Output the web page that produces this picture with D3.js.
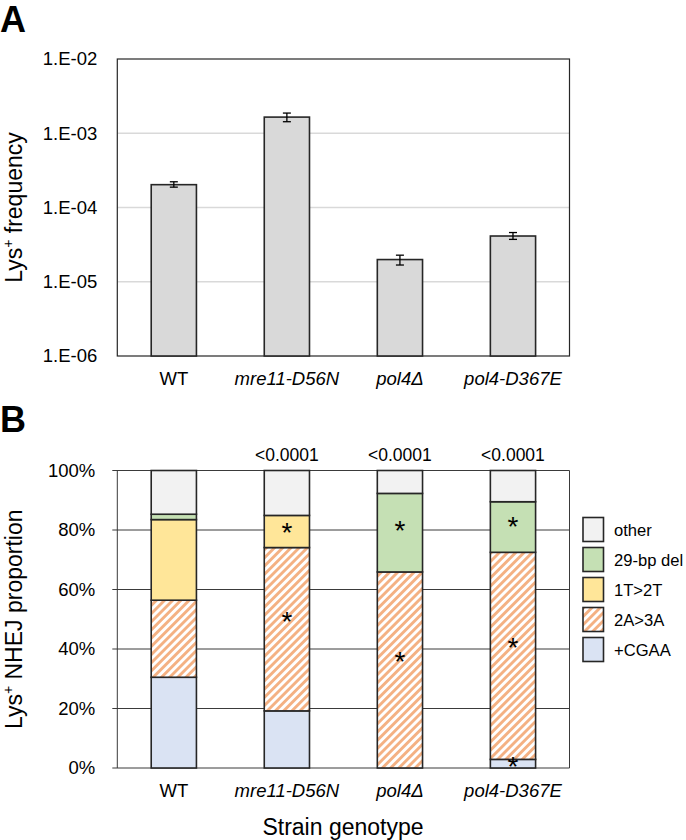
<!DOCTYPE html>
<html><head><meta charset="utf-8">
<script src="https://cdn.jsdelivr.net/npm/d3@7/dist/d3.min.js"></script>
<style>
html,body{margin:0;padding:0;background:#fff;}
svg{display:block;font-family:"Liberation Sans",Arial,sans-serif;}
</style></head>
<body>
<svg id="chart" width="686" height="840"></svg>
<script>
// ---------- DATA ----------
const categories = ["WT", "mre11-D56N", "pol4\u0394", "pol4-D367E"];
const italicCategory = [false, true, true, true];

// Panel A: Lys+ frequency with error bars
const frequency = [2.03e-4, 1.65e-3, 1.99e-5, 4.13e-5];
const freqUpper = [2.22e-4, 1.87e-3, 2.28e-5, 4.60e-5];
const freqLower = [1.88e-4, 1.43e-3, 1.68e-5, 3.72e-5];
const logTicks = [1e-6, 1e-5, 1e-4, 1e-3, 1e-2];
const logTickLabels = ["1.E-06", "1.E-05", "1.E-04", "1.E-03", "1.E-02"];

// Panel B: NHEJ proportions (%), stacked bottom to top
const seriesNames = ["+CGAA", "2A>3A", "1T>2T", "29-bp del", "other"];
const cgaa   = [30.5, 19.2, 0.0, 2.9];
const a2to3  = [25.9, 54.9, 65.9, 69.6];
const t1to2  = [27.1, 10.8, 0.0, 0.0];
const del29  = [1.8, 0.0, 26.4, 17.0];
const other  = [14.7, 15.1, 7.7, 10.5];
const pctTicks = [0, 20, 40, 60, 80, 100];
const pValues = ["", "<0.0001", "<0.0001", "<0.0001"];
// significance marks: [category index, series name]
const asterisks = [[1, "1T>2T"], [1, "2A>3A"], [2, "29-bp del"], [2, "2A>3A"],
                   [3, "29-bp del"], [3, "2A>3A"], [3, "+CGAA"]];
const legendOrder = ["other", "29-bp del", "1T>2T", "2A>3A", "+CGAA"];

// ---------- STYLE ----------
const fills = {"+CGAA": "#dae3f3", "2A>3A": "url(#hatch)", "1T>2T": "#ffe699",
               "29-bp del": "#c5e0b4", "other": "#f2f2f2"};
const barStroke = "#262626";
const fs = 18.5;

const svg = d3.select("#chart");
const defs = svg.append("defs");
const pat = defs.append("pattern").attr("id", "hatch")
  .attr("patternUnits", "userSpaceOnUse").attr("width", 5.8).attr("height", 5.8)
  .attr("patternTransform", "rotate(45)");
pat.append("rect").attr("width", 5.8).attr("height", 5.8).attr("fill", "#fff");
pat.append("rect").attr("width", 2.9).attr("height", 5.8).attr("fill", "#f4b183");

const left = 117.3, right = 569.5;
const x = d3.scaleBand().domain(categories).range([left, right]).paddingInner(0.6).paddingOuter(0.3);

// ===== Panel A =====
const topA = 59, botA = 356;
const yA = d3.scaleLog().domain([1e-6, 1e-2]).range([botA, topA]);
const gA = svg.append("g");

gA.append("g").selectAll("line").data(logTicks.slice(1, -1)).join("line")
  .attr("x1", left).attr("x2", right).attr("y1", d => yA(d)).attr("y2", d => yA(d))
  .attr("stroke", "#d9d9d9").attr("stroke-width", 1.5);

gA.append("rect").attr("x", left).attr("y", topA).attr("width", right - left).attr("height", botA - topA)
  .attr("fill", "none").attr("stroke", "#262626").attr("stroke-width", 1.2);

const axA = d3.axisLeft(yA).tickValues(logTicks).tickFormat((d, i) => logTickLabels[i]).tickSize(0).tickPadding(20);
const axAg = gA.append("g").attr("transform", `translate(${left},0)`).call(axA);
axAg.select(".domain").remove();
axAg.selectAll("text").attr("font-size", fs).attr("fill", "#000").attr("font-family", "Liberation Sans, Arial, sans-serif");

gA.append("g").selectAll("rect").data(categories).join("rect")
  .attr("x", d => x(d)).attr("width", x.bandwidth())
  .attr("y", (d, i) => yA(frequency[i])).attr("height", (d, i) => botA - yA(frequency[i]))
  .attr("fill", "#d9d9d9").attr("stroke", barStroke).attr("stroke-width", 1.6);

const eb = gA.append("g").attr("stroke", "#000").attr("stroke-width", 1.3);
categories.forEach((c, i) => {
  const cx = x(c) + x.bandwidth() / 2;
  eb.append("line").attr("x1", cx).attr("x2", cx).attr("y1", yA(freqUpper[i])).attr("y2", yA(freqLower[i]));
  eb.append("line").attr("x1", cx - 4).attr("x2", cx + 4).attr("y1", yA(freqUpper[i])).attr("y2", yA(freqUpper[i]));
  eb.append("line").attr("x1", cx - 4).attr("x2", cx + 4).attr("y1", yA(freqLower[i])).attr("y2", yA(freqLower[i]));
});

gA.append("g").selectAll("text").data(categories).join("text")
  .attr("x", d => x(d) + x.bandwidth() / 2).attr("y", 385)
  .attr("text-anchor", "middle").attr("font-size", fs)
  .attr("font-style", (d, i) => italicCategory[i] ? "italic" : "normal").text(d => d);

const tA = gA.append("text").attr("transform", `translate(22,${(topA + botA) / 2}) rotate(-90)`)
  .attr("text-anchor", "middle").attr("font-size", 23);
tA.append("tspan").text("Lys");
tA.append("tspan").attr("font-size", 14).attr("dy", -9).text("+");
tA.append("tspan").attr("dy", 9).text(" frequency");

svg.append("text").attr("x", 0).attr("y", 32).attr("font-size", 36).attr("font-weight", "bold").text("A");

// ===== Panel B =====
const topB = 470.5, botB = 768;
const yB = d3.scaleLinear().domain([0, 100]).range([botB, topB]);
const gB = svg.append("g");

gB.append("g").selectAll("line").data(pctTicks).join("line")
  .attr("x1", left - 5).attr("x2", right).attr("y1", d => yB(d)).attr("y2", d => yB(d))
  .attr("stroke", "#3a3a3a").attr("stroke-width", 1);
gB.append("line").attr("x1", left).attr("x2", left).attr("y1", topB).attr("y2", botB).attr("stroke", "#3a3a3a");
gB.append("line").attr("x1", right).attr("x2", right).attr("y1", topB).attr("y2", botB).attr("stroke", "#3a3a3a");

const axB = d3.axisLeft(yB).tickValues(pctTicks).tickFormat(d => d + "%").tickSize(0).tickPadding(22);
const axBg = gB.append("g").attr("transform", `translate(${left},0)`).call(axB);
axBg.select(".domain").remove();
axBg.selectAll("text").attr("font-size", fs).attr("fill", "#000").attr("font-family", "Liberation Sans, Arial, sans-serif");

const table = categories.map((c, i) => ({cat: c, "+CGAA": cgaa[i], "2A>3A": a2to3[i], "1T>2T": t1to2[i], "29-bp del": del29[i], "other": other[i]}));
const stacked = d3.stack().keys(seriesNames)(table);

const segG = gB.append("g");
stacked.forEach(layer => {
  segG.append("g").selectAll("rect").data(layer.filter(d => d[1] - d[0] > 0)).join("rect")
    .attr("x", d => x(d.data.cat)).attr("width", x.bandwidth())
    .attr("y", d => yB(d[1])).attr("height", d => yB(d[0]) - yB(d[1]))
    .attr("fill", fills[layer.key]).attr("stroke", barStroke).attr("stroke-width", 1.6);
});

const astG = gB.append("g");
const astSize = 28;
asterisks.forEach(([ci, key]) => {
  const layer = stacked.find(l => l.key === key);
  const d = layer[ci];
  const h = yB(d[0]) - yB(d[1]);
  const cy = (yB(d[0]) + yB(d[1])) / 2 - Math.min(14, h * 0.08 + 2);
  astG.append("text").attr("x", x(categories[ci]) + x.bandwidth() / 2).attr("y", cy + 0.55 * astSize)
    .attr("text-anchor", "middle").attr("font-size", astSize).text("*");
});

gB.append("g").selectAll("text").data(pValues).join("text")
  .attr("x", (d, i) => x(categories[i]) + x.bandwidth() / 2).attr("y", 461)
  .attr("text-anchor", "middle").attr("font-size", 17.5).text(d => d);

gB.append("g").selectAll("text").data(categories).join("text")
  .attr("x", d => x(d) + x.bandwidth() / 2).attr("y", 797)
  .attr("text-anchor", "middle").attr("font-size", fs)
  .attr("font-style", (d, i) => italicCategory[i] ? "italic" : "normal").text(d => d);

gB.append("text").attr("x", 343).attr("y", 835).attr("text-anchor", "middle").attr("font-size", 23).text("Strain genotype");

const tB = gB.append("text").attr("transform", `translate(22,${(topB + botB) / 2}) rotate(-90)`)
  .attr("text-anchor", "middle").attr("font-size", 23);
tB.append("tspan").text("Lys");
tB.append("tspan").attr("font-size", 14).attr("dy", -9).text("+");
tB.append("tspan").attr("dy", 9).text(" NHEJ proportion");

svg.append("text").attr("x", 0).attr("y", 432).attr("font-size", 36).attr("font-weight", "bold").text("B");

// legend
const lg = gB.append("g");
legendOrder.forEach((k, i) => {
  const yy = 517.5 + i * 30;
  lg.append("rect").attr("x", 583).attr("y", yy).attr("width", 20.5).attr("height", 24)
    .attr("fill", fills[k]).attr("stroke", barStroke).attr("stroke-width", 1.6);
  lg.append("text").attr("x", 614).attr("y", yy + 18).attr("font-size", 16.6).text(k);
});
</script>
</body></html>
